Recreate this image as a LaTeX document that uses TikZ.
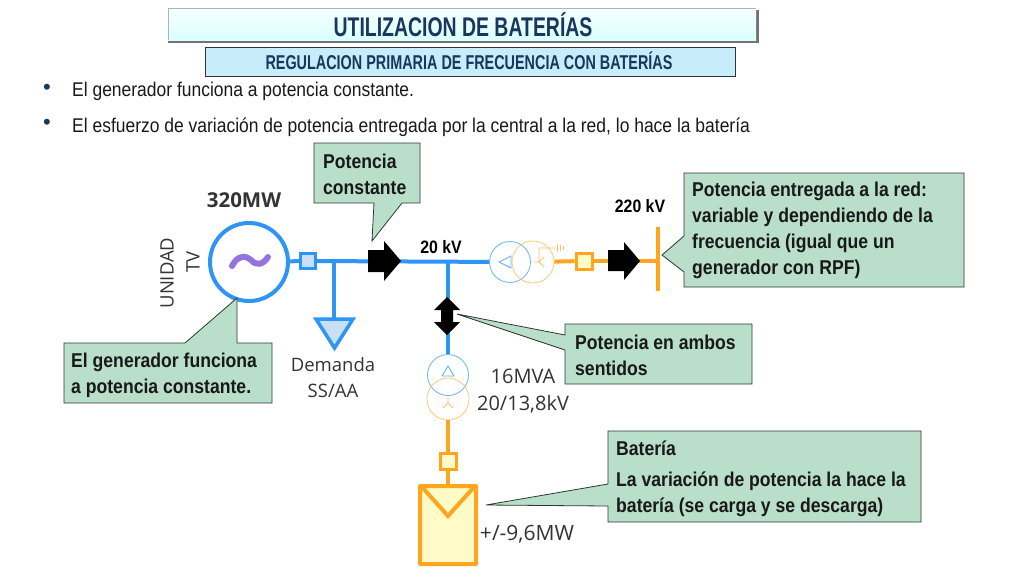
\documentclass[tikz,border=0pt]{standalone}
\usepackage{fontspec}
\setmainfont{Liberation Sans}
\newfontfamily\bodyf[FakeStretch=0.88]{Liberation Sans}
\newfontfamily\headf[FakeStretch=0.72]{Liberation Sans}
\newfontfamily\labf{Open Sans}
\usetikzlibrary{calc}
\definecolor{bluel}{HTML}{2F95F5}
\definecolor{orangel}{HTML}{FFA51E}
\definecolor{callout}{HTML}{B9DFCB}
\definecolor{navy}{HTML}{17375E}
\definecolor{bluefill}{HTML}{C9E0F4}
\definecolor{yelfill}{HTML}{FFFBC8}
\tikzset{
  x=1pt,y=-1pt,
  busb/.style={draw=bluel,line width=4pt},
  buso/.style={draw=orangel,line width=4pt},
  bsq/.style={draw=bluel,line width=3pt,fill=bluefill,minimum size=15pt,inner sep=0pt},
  osq/.style={draw=orangel,line width=3pt,fill=yelfill,minimum size=16pt,inner sep=0pt},
  tb/.style={draw=bluel!70,line width=0.8pt,circle,inner sep=0pt,minimum size=41pt},
  to/.style={draw=orangel!60,line width=0.8pt,circle,inner sep=0pt,minimum size=42pt},
  call/.style={draw=black!75!callout,line width=0.8pt,fill=callout},
  ctext/.style={anchor=west,align=left,inner sep=0pt,font=\bodyf\bfseries\fontsize{20}{25.8}\selectfont,text=black!90},
  bullet/.style={anchor=west,inner sep=0pt,font=\bodyf\fontsize{19.85}{23}\selectfont,text=black!90},
  volt/.style={inner sep=0pt,font=\bodyf\bfseries\fontsize{18}{20}\selectfont},
  lab/.style={inner sep=0pt,text=black!80,align=center,font=\labf\fontsize{18.5}{26}\selectfont},
  blackarrow/.style={fill=black,draw=none},
}
\begin{document}
\begin{tikzpicture}
\useasboundingbox (0,0) rectangle (1024,576);
\fill[white] (0,0) rectangle (1024,576);
% header
\fill[black!55] (168,10) rectangle (759,43);
\shade[top color=cyan!3!white,bottom color=cyan!14] (168,8) rectangle (756,40);
\draw[black!30,line width=0.6pt] (168,40) -- (168,8) -- (756,8);
\node[inner sep=0pt,text=navy,font=\headf\bfseries\fontsize{27}{30}\selectfont] (title) at (463,25) {UTILIZACION DE BATERÍAS};
\draw[black!80,line width=0.8pt,fill=cyan!22!white] (205,47) rectangle (735,76);
\node[inner sep=0pt,text=navy,font=\headf\bfseries\fontsize{20}{22}\selectfont] (sub) at (469,61) {REGULACION PRIMARIA DE FRECUENCIA CON BATERÍAS};
% bullets
\node[inner sep=0pt,font=\fontsize{22}{22}\selectfont,text=navy] (b1) at (47,89) {•};
\node[inner sep=0pt,font=\fontsize{22}{22}\selectfont,text=navy] (b2) at (47,124) {•};
\node[bullet] (t1) at (72,91.5) {El generador funciona a potencia constante.};
\node[bullet] (t2) at (72,127.5) {El esfuerzo de variación de potencia entregada por la central a la red, lo hace la batería};
% key positions
\node[draw=bluel,line width=4pt,circle,inner sep=0pt,minimum size=78pt,fill=white] (gen) at (249,262) {};
\node[bsq] (s1) at (308,261) {};
\coordinate (j1) at (334,261);
\coordinate (j2) at (448,261);
\coordinate (loadtop) at (334,319);
\node[tb] (tr1a) at (510,262) {};
\node[to] (tr1b) at (533,262) {};
\node[osq] (s2) at (584,261) {};
\coordinate (bus) at (657,261);
\coordinate (bt) at (658,227);
\coordinate (bb) at (658,291);
\node[tb] (tr2a) at (448,375) {};
\node[to] (tr2b) at (448,399) {};
\node[osq] (s3) at (448,461) {};
\node[draw=orangel,line width=4pt,fill=yelfill,minimum width=56pt,minimum height=78pt,inner sep=0pt,rounded corners=0.5pt] (bat) at (448,525) {};
% connectors
\draw[busb] (gen) -- (s1);
\draw[busb] (s1) -- (tr1a);
\draw[busb] (j1) -- (loadtop);
\draw[busb] (j2) -- (tr2a);
\draw[buso] (tr1b) -- (s2);
\draw[buso] (s2) -- (bus);
\draw[buso,line cap=butt] (bt) -- (bb);
\draw[buso] (tr2b) -- (s3);
\draw[buso] (s3) -- (bat);
\node[bsq] at (s1) {};
\node[osq] at (s2) {};
\node[osq] at (s3) {};
% wave
\draw[draw=violet!45!blue!55!white,line width=6pt,line cap=round] (232,266) .. controls (238,254) and (247,256) .. (251,260) .. controls (256,266) and (263,265) .. (268,257);
% load triangle
\draw[draw=bluel,line width=3.5pt,fill=bluefill,line join=miter] (316,319) -- (353,319) -- (334.5,348) -- cycle;
% transformer symbols
\draw[bluel!70,line width=0.9pt] (499,262) -- (511,256) -- (511,268) -- cycle;
\draw[orangel!70,line width=0.9pt] (534,262) -- (539,262) -- (544,257) (539,262) -- (544,267) (539,262) -- (539,248) -- (556,248);
\draw[orangel!70,line width=0.7pt] (557,244) -- (557,252) (560,245) -- (560,251) (563,246) -- (563,250);
\draw[bluel!70,line width=0.9pt] (448,366) -- (442,376) -- (454,376) -- cycle;
\draw[orangel!70,line width=0.9pt] (448,397) -- (448,403) -- (443,408) (448,403) -- (453,408);
% battery triangle
\draw[orangel,line width=4pt,line join=miter] (422,487) -- (448,516) -- (474,487);
% black arrows
\fill[blackarrow] (368,250) -- (384,250) -- (384,241) -- (401,261) -- (384,281) -- (384,272) -- (368,272) -- cycle;
\fill[blackarrow] (608,250) -- (624,250) -- (624,242) -- (640,261) -- (624,280) -- (624,271) -- (608,271) -- cycle;
\fill[blackarrow] (447,297) -- (460,310) -- (453,310) -- (453,322) -- (460,322) -- (447,335) -- (434,322) -- (441,322) -- (441,310) -- (434,310) -- cycle;
% callouts
\draw[call] (314,143) -- (420,143) -- (420,203) -- (402,203) -- (372,241) -- (374,203) -- (314,203) -- cycle;
\draw[call] (64,343) -- (185,343) -- (237,298) -- (237,343) -- (272,343) -- (272,403) -- (64,403) -- cycle;
\draw[call] (565,324) -- (752,324) -- (752,384) -- (565,384) -- (565,350) -- (457,314) -- (565,335) -- cycle;
\draw[call] (684,173) -- (964,173) -- (964,287) -- (684,287) -- (684,272) -- (662,255) -- (684,236) -- cycle;
\draw[call] (608,431) -- (921,431) -- (921,522) -- (608,522) -- (608,506) -- (486,505) -- (608,484) -- cycle;
\node[ctext] (c1) at (323,174) {Potencia\\constante};
\node[ctext] (c2) at (71,375) {El generador funciona\\a potencia constante.};
\node[ctext] (c3) at (575,355) {Potencia en ambos\\sentidos};
\node[ctext] (c4) at (692,230.5) {Potencia entregada a la red:\\variable y dependiendo de la\\frecuencia (igual que un\\generador con RPF)};
\node[ctext] (c5) at (616,448) {Batería};
\node[ctext] (c6) at (616,494) {La variación de potencia la hace la\\batería (se carga y se descarga)};
% labels
\node[inner sep=0pt,text=black!80,font=\labf\bfseries\fontsize{20.5}{22}\selectfont] (mw) at (244,200) {320MW};
\node[lab,rotate=90] (u1) at (167,273) {UNIDAD};
\node[lab,rotate=90] (u2) at (193,262) {TV};
\node[lab] (dem) at (333,378) {Demanda\\SS/AA};
\node[volt] (v1) at (441,247) {20 kV};
\node[volt] (v2) at (640,206) {220 kV};
\node[lab,font=\labf\fontsize{20}{27}\selectfont] (m1) at (523,391) {16MVA\\20/13,8kV};
\node[lab,font=\labf\fontsize{21}{26}\selectfont] (m2) at (527,534) {+/-9,6MW};
\end{tikzpicture}
\end{document}
